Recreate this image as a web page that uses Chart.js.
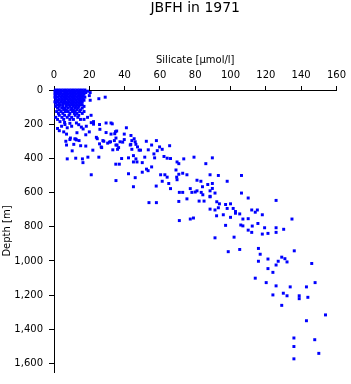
<!DOCTYPE html>
<html>
<head>
<meta charset="utf-8">
<title>JBFH in 1971</title>
<script src="https://cdn.jsdelivr.net/npm/chart.js@4.4.0/dist/chart.umd.min.js"></script>
<style>
  html, body { margin: 0; padding: 0; background: #fff; }
  #wrap { width: 351px; height: 384px; }
</style>
</head>
<body>
<div id="wrap"><canvas id="myChart" width="351" height="384"></canvas></div>
<script>
// surface layer: silicate readings at each sampled depth (dense cluster near 0-170 m)
const surfaceDepths = [0, 7, 15, 24, 33, 42, 51, 60, 69, 78, 87, 96, 106, 116, 126, 137, 148, 160, 172];
const surfaceSilicate = [
  [1, 2.5, 4, 5.5, 7, 8.5, 10, 11.5, 13, 14.5, 16, 17.5],
  [0.5, 2, 3.5, 5, 6.5, 8, 9.5, 11, 12.5, 14, 15.5, 17, 19],
  [1, 2.5, 4, 6, 7.5, 9, 10.5, 12, 13.5, 15, 16.5, 18, 20.5],
  [0.5, 2, 3.5, 5, 6.5, 8, 9.5, 11, 12.5, 14, 15.5, 17],
  [1, 3, 4.5, 6, 7.5, 9, 10.5, 12, 13.5, 15, 16.5, 20],
  [0.5, 2, 4, 5.5, 7, 8.5, 10, 11.5, 13, 14.5, 16, 17.5, 29],
  [1, 3, 4.5, 6, 7.5, 9, 10.5, 12, 13.5, 15, 16.5, 25.4],
  [1.5, 3, 4.5, 6, 8, 9.5, 11, 12.5, 14, 15.5, 17, 20.5],
  [0.5, 2, 4, 5.5, 7, 8.5, 10, 11.5, 13, 14.5, 16],
  [1, 3, 5, 6.5, 8, 9.5, 11, 12.5, 14, 15.5],
  [2, 3.5, 5, 7, 8.5, 10, 11.5, 13, 14.5, 16],
  [1, 3, 5, 7, 9, 11, 12.5, 14, 17],
  [2, 4.5, 6, 8, 10, 12, 13.5, 16],
  [3, 5.5, 7, 9.5, 11, 13, 15],
  [1.5, 4, 6.5, 8, 10.5, 12, 14.5, 17],
  [2.5, 5, 9, 11.5, 13, 16],
  [3, 6, 8.5, 12, 14, 21],
  [1, 4.5, 7.5, 10, 13.5, 19],
  [2, 5.5, 9, 11, 15, 17]
];

// intermediate layer, [silicate, depth]
const midSamples = [
  [22.4, 185], [22.4, 200], [25.8, 202], [26, 230], [29.5, 193], [33, 198], [29.5, 249], [32.3, 258],
  [34.4, 256], [35.5, 240], [24, 277], [27.7, 296], [6.2, 202], [4.3, 212], [7.5, 221], [10, 212],
  [12.7, 193], [15.5, 217], [18.3, 212], [7.1, 258], [9.3, 281], [11.8, 286], [12.7, 292], [21.1, 191],
  [32.3, 193], [41, 221], [34.8, 244], [39.8, 258], [35.1, 281], [43.6, 266], [45.4, 285], [3.4, 185],
  [6, 190], [9, 195], [14, 203], [16.5, 228], [3, 238], [5.5, 245], [13, 250], [20, 245], [18, 262], [2, 225],
  [6.7, 300], [9, 290], [12.3, 287], [14.2, 296], [7.1, 322], [11.2, 318], [15.1, 326], [18, 328],
  [10.3, 356], [22, 352], [24.5, 285], [25.8, 315], [27, 337], [28.2, 300], [30.4, 311], [32, 303],
  [34.2, 296], [35.7, 322], [33.3, 350], [36, 347], [37.4, 303], [39.8, 290], [44.1, 296], [46, 303],
  [43.2, 322], [47.3, 333], [44.1, 347], [7.5, 403], [12.3, 399], [16.1, 403], [16.4, 425], [19.2, 393],
  [25.4, 393], [21.1, 496], [35, 434], [37, 434], [38.3, 401], [42.2, 397], [45, 384], [46.4, 403],
  [45, 421], [47, 421], [42.2, 490], [46, 513], [35.1, 530], [45, 566],
  [52.3, 300], [58, 296], [35.1, 322], [36.6, 337], [43.5, 318], [48.2, 352], [53.4, 350], [55.3, 322],
  [59.8, 333], [61.3, 347], [65.5, 326], [50, 425], [51.4, 393], [57, 397], [62.3, 389], [64.1, 399],
  [66, 401], [69.7, 421], [70.7, 431], [73.5, 403], [79.3, 393], [50, 481], [53.3, 472], [69.1, 468],
  [70.7, 493], [72.9, 487], [75.3, 496], [60.4, 496], [62.8, 496], [64.1, 510], [61.3, 534], [65, 547],
  [66, 577], [69.7, 525], [69.5, 510], [57.9, 562], [71, 599], [72.9, 599], [77.2, 577], [78.1, 599],
  [81, 590], [81, 528], [75.3, 637], [70.7, 652], [53.8, 659], [58, 659], [52.4, 463], [55.3, 450],
  [56.6, 374], [26.7, 333], [38.9, 305], [31.4, 305], [46.4, 318], [49, 352], [58.5, 355],
  [89.7, 397], [86, 431], [88.4, 496], [93.1, 500], [106.2, 500], [83.2, 534], [87.1, 553], [89.7, 547],
  [98.1, 534], [84.1, 566], [89.7, 576], [80, 597], [83.4, 599], [88.4, 590], [91.2, 603], [84.3, 613],
  [88.4, 625], [106.2, 603], [110, 632], [125.8, 646], [82.2, 650], [85, 650], [92.2, 654], [93.7, 666],
  [97.2, 670], [100, 666], [88.4, 622]
];

// deep layer, [silicate, depth]
const deepSamples = [
  [71, 764], [77.2, 755], [79, 749], [88.4, 697], [91.2, 702], [93.1, 689], [98.1, 693], [101.5, 693],
  [102.8, 711], [92.1, 736], [95.9, 730], [100, 745], [97.2, 792], [91.2, 865], [102, 861], [98.7, 946],
  [102.8, 721], [105.2, 725], [107, 755], [110, 753], [112, 702], [114, 715], [115.2, 702], [118, 730],
  [134.8, 755], [105.8, 790], [107, 795], [112.3, 796], [115.5, 781], [110, 820], [112, 833], [119.3, 806],
  [125.8, 806], [125.8, 833], [121.2, 839], [118, 843], [130.1, 815], [105.2, 933], [115.8, 927],
  [116.8, 961], [115.8, 1002], [121.2, 989], [127, 1002], [129, 978], [130.8, 987], [132, 1006],
  [125.8, 1024], [121.2, 1045], [124, 1067], [136.1, 941], [146, 1015], [114, 1101], [120.2, 1127],
  [125.8, 1146], [133.8, 1152], [143, 1152], [147.9, 1127], [124, 1199], [129.9, 1189], [132, 1204],
  [138.9, 1204], [138.9, 1221], [143.8, 1213], [129, 1260], [153.8, 1316], [143, 1350], [135.9, 1451],
  [135.9, 1501], [135.9, 1573], [147.7, 1461], [150, 1541]
];

const xTicks = [0, 20, 40, 60, 80, 100, 120, 140, 160];
const yTicks = [0, 200, 400, 600, 800, 1000, 1200, 1400, 1600];

const points = [];
surfaceDepths.forEach((d, i) => {
  surfaceSilicate[i].forEach(s => points.push({ x: s, y: d }));
});
midSamples.forEach(p => points.push({ x: p[0], y: p[1] }));
deepSamples.forEach(p => points.push({ x: p[0], y: p[1] }));

const fontFamily = "'DejaVu Sans', sans-serif";
const axisGrid = (len) => ({
  display: true,
  drawOnChartArea: false,
  drawTicks: true,
  tickLength: len,
  color: '#000',
  lineWidth: 1
});

const ctx = document.getElementById('myChart').getContext('2d');
new Chart(ctx, {
  type: 'scatter',
  data: {
    datasets: [{
      data: points,
      pointStyle: 'rect',
      pointRadius: 2.1,
      pointHoverRadius: 2.1,
      pointBorderWidth: 0,
      backgroundColor: '#0000ff',
      borderColor: '#0000ff',
      clip: false
    }]
  },
  options: {
    responsive: false,
    animation: false,
    devicePixelRatio: 1,
    events: [],
    layout: { padding: { left: 0, right: 11, top: 0, bottom: 1 } },
    plugins: {
      legend: { display: false },
      tooltip: { enabled: false },
      title: {
        display: true,
        text: 'JBFH in 1971',
        fullSize: false,
        color: '#000',
        font: { family: fontFamily, size: 14, weight: 'normal' },
        padding: { top: 0, bottom: 30 }
      }
    },
    scales: {
      x: {
        type: 'linear',
        position: 'top',
        min: 0,
        max: 160,
        afterBuildTicks: (scale) => { scale.ticks = xTicks.map(v => ({ value: v })); },
        afterFit: (scale) => { scale.height = 43.2; },
        grid: axisGrid(4),
        border: { display: true, color: '#000', width: 1 },
        ticks: {
          color: '#000',
          padding: 5,
          maxRotation: 0,
          font: { family: fontFamily, size: 10 }
        },
        title: {
          display: true,
          text: 'Silicate [µmol/l]',
          color: '#000',
          font: { family: fontFamily, size: 10 },
          padding: { top: 8, bottom: 0 }
        }
      },
      y: {
        type: 'linear',
        position: 'left',
        reverse: true,
        min: 0,
        max: 1650,
        afterBuildTicks: (scale) => { scale.ticks = yTicks.map(v => ({ value: v })); },
        afterFit: (scale) => { scale.width = 54; },
        grid: axisGrid(5),
        border: { display: true, color: '#000', width: 1 },
        ticks: {
          color: '#000',
          padding: 6,
          font: { family: fontFamily, size: 10 }
        },
        title: {
          display: true,
          text: 'Depth [m]',
          color: '#000',
          font: { family: fontFamily, size: 10 },
          padding: { top: 1, bottom: 0 }
        }
      }
    }
  }
});
</script>
</body>
</html>
